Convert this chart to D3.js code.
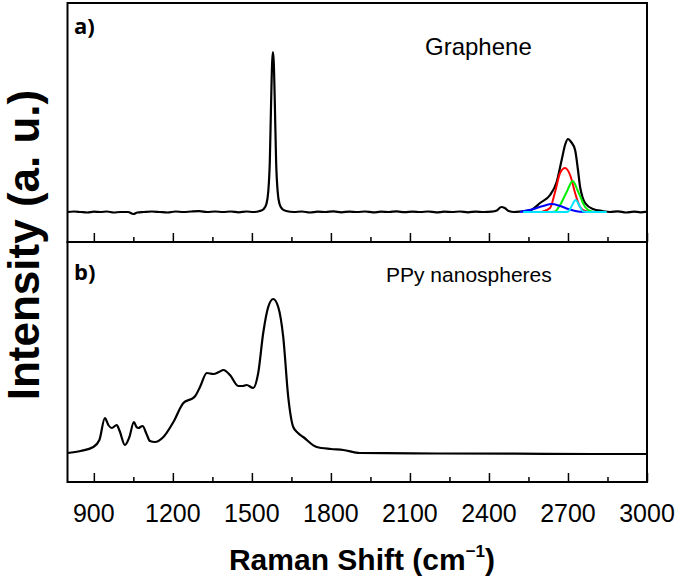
<!DOCTYPE html>
<html><head><meta charset="utf-8">
<script src="https://cdn.jsdelivr.net/npm/d3@7"></script>
<style>body{margin:0;background:#fff}svg{display:block}</style>
</head><body><svg id="c" width="675" height="577"></svg>
<script>
// ---- data ----
const majorTicks = [900, 1200, 1500, 1800, 2100, 2400, 2700, 3000];
const minorTicks = [1050, 1350, 1650, 1950, 2250, 2550, 2850];
const panelLabels = ["a)", "b)"];
const sampleNames = ["Graphene", "PPy nanospheres"];
const xTitle = "Raman Shift (cm";
const yTitle = "Intensity (a. u.)";

// Graphene spectrum [wavenumber, intensity]
const graphene = [[800,0],[825,0.5],[850,0],[875,-0.5],[900,0.3],[925,0],[950,0.5],[975,-0.5],[1000,0],[1030,0],[1050,-2],[1065,-0.5],[1090,0],[1120,0.5],[1150,0],[1180,-0.5],[1210,0.5],[1240,0],[1270,0.5],[1300,0.8],[1330,0],[1360,0.5],[1390,0],[1420,0.5],[1450,-0.3],[1480,0.5],[1505,0],[1530,1],[1545,3],[1555,8],[1562,20],[1568,50],[1573,110],[1577,150],[1580,160],[1583,150],[1587,110],[1592,50],[1598,20],[1605,8],[1615,3],[1630,1],[1660,0],[1690,0.5],[1720,-0.5],[1750,0.3],[1780,0],[1810,0.6],[1840,-0.3],[1870,0.4],[1900,0],[1930,0.5],[1960,-0.4],[1990,0.3],[2020,0],[2050,0.6],[2080,-0.2],[2110,0.4],[2140,0],[2170,0.5],[2200,-0.4],[2230,0.3],[2260,0],[2290,0.5],[2320,-0.3],[2350,0.4],[2380,0],[2410,0.3],[2430,1.5],[2447,5],[2460,4],[2475,1],[2495,0],[2520,0.5],[2560,2],[2594,9],[2632,17],[2657,30],[2676,52],[2690,68],[2700,73],[2712,70],[2727,62],[2738,42],[2746,25],[2755,15],[2765,9],[2795,3],[2830,1],[2860,0],[2890,0.6],[2920,-0.5],[2950,0.4],[2975,-0.3],[3000,0.3]];

// Fitted 2D band components
const fitRed = [[2600,0],[2632,4],[2651,20],[2670,39],[2689,44],[2708,37],[2727,19],[2746,5],[2765,1],[2790,0]];
const fitGreen = [[2640,0],[2651,0.5],[2670,7],[2695,20],[2718,31],[2739,20],[2765,5],[2784,1],[2800,0]];
const fitCyan = [[2530,0],[2600,0],[2690,0],[2701,0.5],[2714,6],[2729,12],[2746,5],[2758,0.5],[2780,0],[2847,0]];
const fitBlue = [[2518,0],[2568,3],[2606,6],[2638,8],[2670,6],[2701,3],[2746,0.3],[2795,0]];
const fitSeries = [
  {name:"red", data:fitRed, color:"#ff0000"},
  {name:"green", data:fitGreen, color:"#00ee00"},
  {name:"blue", data:fitBlue, color:"#0000ff"},
  {name:"cyan", data:fitCyan, color:"#00e5ff"}
];

// PPy nanospheres spectrum
const ppy = [[800,1],[850,3],[898,7],[921,14],[942,36],[955,29],[968,26],[987,29],[998,23],[1018,9],[1035,17],[1052,32],[1062,27],[1069,26],[1085,28],[1100,20],[1113,13],[1132,12],[1164,17],[1202,32],[1240,51],[1260,54],[1271,55],[1285,58],[1303,67],[1329,81],[1354,80],[1375,82],[1392,84],[1417,79],[1448,68],[1465,68],[1480,69],[1505,66],[1524,81],[1543,121],[1562,147],[1581,155],[1600,147],[1619,117],[1638,57],[1657,27],[1675,21],[1695,17],[1746,7],[1800,5],[1847,4],[1910,1],[2000,0.8],[2200,0.5],[2500,0.3],[2800,0],[3000,0]];

// ---- layout ----
const svg = d3.select("#c");
const L = 67.5, R = 647, T = 3, M = 242, B = 482;
const x = d3.scaleLinear().domain([800, 3000]).range([L, R]);
const yTop = d3.scaleLinear().domain([-30, 209]).range([M, T]);
const yBot = d3.scaleLinear().domain([-28, 212]).range([B, M]);

const lineTop = d3.line().x(d => x(d[0])).y(d => yTop(d[1])).curve(d3.curveMonotoneX);
const lineBot = d3.line().x(d => x(d[0])).y(d => yBot(d[1])).curve(d3.curveMonotoneX);

svg.append("path").attr("d", lineTop(graphene)).attr("fill","none").attr("stroke","#000").attr("stroke-width",2.2);
fitSeries.forEach(s => {
  svg.append("path").attr("d", lineTop(s.data)).attr("fill","none").attr("stroke",s.color).attr("stroke-width",2);
});
svg.append("path").attr("d", lineBot(ppy)).attr("fill","none").attr("stroke","#000").attr("stroke-width",2.2);

// ticks
function ticks(yPos) {
  const gMaj = svg.append("g").attr("transform", `translate(0,${yPos})`)
    .call(d3.axisBottom(x).tickValues(majorTicks).tickSize(-9).tickFormat(""));
  const gMin = svg.append("g").attr("transform", `translate(0,${yPos})`)
    .call(d3.axisBottom(x).tickValues(minorTicks).tickSize(-5).tickFormat(""));
  [gMaj, gMin].forEach(g => { g.select(".domain").remove(); g.selectAll("line").attr("stroke","#000").attr("stroke-width",1.5); });
}
ticks(M); ticks(B);

// tick labels
svg.append("g").selectAll("text").data(majorTicks).join("text")
  .attr("x", d => x(d)).attr("y", 522).attr("text-anchor","middle")
  .attr("font-family","Liberation Sans, Arial, sans-serif").attr("font-size",25)
  .text(d => d);

// frames
svg.append("rect").attr("x",L).attr("y",T).attr("width",R-L).attr("height",M-T).attr("fill","none").attr("stroke","#000").attr("stroke-width",2);
svg.append("rect").attr("x",L).attr("y",M).attr("width",R-L).attr("height",B-M).attr("fill","none").attr("stroke","#000").attr("stroke-width",2);

// panel labels
svg.append("text").attr("x",74).attr("y",34).attr("font-family","Open Sans, sans-serif").attr("font-weight","bold").attr("font-size",22).text(panelLabels[0]);
svg.append("text").attr("x",74).attr("y",280).attr("font-family","Open Sans, sans-serif").attr("font-weight","bold").attr("font-size",22).text(panelLabels[1]);
svg.append("text").attr("x",425).attr("y",55).attr("font-family","Liberation Sans, Arial, sans-serif").attr("font-size",24).text(sampleNames[0]);
svg.append("text").attr("x",386).attr("y",282).attr("font-family","Liberation Sans, Arial, sans-serif").attr("font-size",21).text(sampleNames[1]);

// axis titles
const xt = svg.append("text").attr("x",362).attr("y",570).attr("text-anchor","middle")
  .attr("font-family","Liberation Sans, Arial, sans-serif").attr("font-weight","bold").attr("font-size",30);
xt.append("tspan").text(xTitle);
xt.append("tspan").attr("dy",-13).attr("font-size",17).text("\u22121");
xt.append("tspan").attr("dy",13).text(")");

svg.append("text").attr("transform","translate(39,245) rotate(-90)").attr("text-anchor","middle")
  .attr("font-family","Liberation Sans, Arial, sans-serif").attr("font-weight","bold").attr("font-size",44)
  .text(yTitle);
</script></body></html>
